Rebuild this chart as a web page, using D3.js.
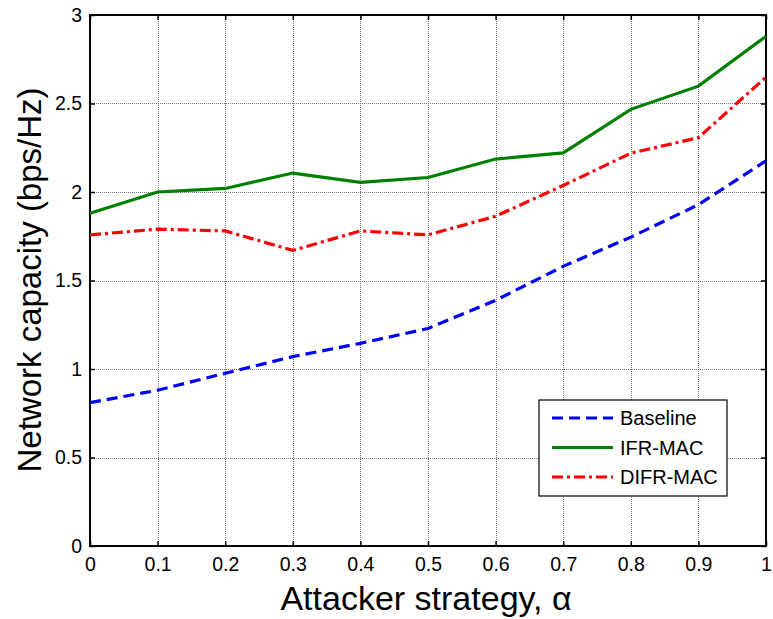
<!DOCTYPE html>
<html>
<head>
<meta charset="utf-8">
<script src="https://cdn.jsdelivr.net/npm/d3@7"></script>
<style>
  body { margin: 0; background: #fff; }
  text { font-family: "Liberation Sans", Arial, sans-serif; }
</style>
</head>
<body>
<div class="chart"></div>
<script>
const alphas = [0, 0.1, 0.2, 0.3, 0.4, 0.5, 0.6, 0.7, 0.8, 0.9, 1];
const baseline = [0.81, 0.88, 0.976, 1.07, 1.145, 1.229, 1.388, 1.58, 1.745, 1.928, 2.176];
const ifrMac = [1.88, 2.0, 2.02, 2.107, 2.054, 2.082, 2.186, 2.221, 2.467, 2.598, 2.88];
const difrMac = [1.758, 1.79, 1.78, 1.67, 1.78, 1.758, 1.863, 2.037, 2.219, 2.307, 2.649];
const xTicks = [0, 0.1, 0.2, 0.3, 0.4, 0.5, 0.6, 0.7, 0.8, 0.9, 1];
const yTicks = [0, 0.5, 1, 1.5, 2, 2.5, 3];
const seriesNames = ["Baseline", "IFR-MAC", "DIFR-MAC"];

const width = 773, height = 619;
const margin = {left: 90, right: 7, top: 15, bottom: 73};

const svg = d3.select(".chart").append("svg")
  .attr("width", width)
  .attr("height", height);

const x = d3.scaleLinear().domain([0, 1]).range([margin.left, width - margin.right]);
const y = d3.scaleLinear().domain([0, 3]).range([height - margin.bottom, margin.top]);

const series = [
  {name: seriesNames[0], vals: baseline, color: "#0000ff", dash: "11,6"},
  {name: seriesNames[1], vals: ifrMac, color: "#008000", dash: null},
  {name: seriesNames[2], vals: difrMac, color: "#ff0000", dash: "11,4,3,4"}
];

// grid
const grid = svg.append("g").attr("stroke", "#777").attr("stroke-width", 1).attr("stroke-dasharray", "1,1");
grid.selectAll(".vx").data(xTicks.slice(1, -1)).enter().append("line")
  .attr("x1", d => Math.round(x(d)) + 0.5).attr("x2", d => Math.round(x(d)) + 0.5)
  .attr("y1", y(3)).attr("y2", y(0));
grid.selectAll(".hy").data(yTicks.slice(1, -1)).enter().append("line")
  .attr("y1", d => Math.round(y(d)) + 0.5).attr("y2", d => Math.round(y(d)) + 0.5)
  .attr("x1", x(0)).attr("x2", x(1));

// axes (ticks inside, mirrored)
const tl = 5;
svg.append("g").attr("transform", `translate(0,${y(0)})`)
  .call(d3.axisBottom(x).tickValues(xTicks).tickSize(-tl).tickPadding(11).tickFormat(d3.format("")))
  .call(g => g.select(".domain").remove())
  .call(g => g.selectAll("text").style("font-size", "19.5px").attr("fill", "#000"));
svg.append("g").attr("transform", `translate(0,${y(3)})`)
  .call(d3.axisTop(x).tickValues(xTicks).tickSize(-tl).tickFormat(""))
  .call(g => g.select(".domain").remove());
svg.append("g").attr("transform", `translate(${x(0)},0)`)
  .call(d3.axisLeft(y).tickValues(yTicks).tickSize(-tl).tickPadding(8).tickFormat(d3.format("")))
  .call(g => g.select(".domain").remove())
  .call(g => g.selectAll("text").style("font-size", "19.5px").attr("fill", "#000"));
svg.append("g").attr("transform", `translate(${x(1)},0)`)
  .call(d3.axisRight(y).tickValues(yTicks).tickSize(-tl).tickFormat(""))
  .call(g => g.select(".domain").remove());
svg.selectAll(".tick line").attr("stroke", "#000").attr("stroke-width", 1.5);

svg.append("rect")
  .attr("x", x(0)).attr("y", y(3))
  .attr("width", x(1) - x(0)).attr("height", y(0) - y(3))
  .attr("fill", "none").attr("stroke", "#000").attr("stroke-width", 2);

// lines
const line = d3.line().x((d, i) => x(alphas[i])).y(d => y(d));
svg.selectAll(".series").data(series).enter().append("path")
  .attr("d", d => line(d.vals))
  .attr("fill", "none")
  .attr("stroke", d => d.color)
  .attr("stroke-width", 3.2)
  .attr("stroke-dasharray", d => d.dash);

// legend
const lg = svg.append("g");
lg.append("rect").attr("x", 539).attr("y", 400).attr("width", 188).attr("height", 96)
  .attr("fill", "#fff").attr("stroke", "#000").attr("stroke-width", 1.2);
const rows = lg.selectAll(".row").data(series).enter().append("g")
  .attr("transform", (d, i) => `translate(0,${418 + i * 29.5})`);
rows.append("line").attr("x1", 552).attr("x2", 613).attr("y1", 0).attr("y2", 0)
  .attr("stroke", d => d.color).attr("stroke-width", 3.2)
  .attr("stroke-dasharray", d => d.dash);
rows.append("text").attr("x", 620).attr("y", 7).style("font-size", "20px").text(d => d.name);

// axis titles
svg.append("text").attr("x", 426).attr("y", 610)
  .attr("text-anchor", "middle").style("font-size", "34px").text("Attacker strategy, \u03b1");
svg.append("text").attr("transform", `translate(41,280) rotate(-90)`)
  .attr("text-anchor", "middle").style("font-size", "33px").text("Network capacity (bps/Hz)");
</script>
</body>
</html>
